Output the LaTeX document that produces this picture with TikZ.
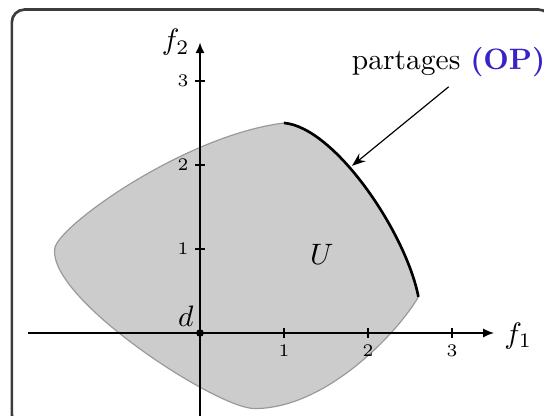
\documentclass[tikz,border=0pt]{standalone}
\usepackage{xcolor}
\usepackage{amsmath,amssymb}
\usepackage{tikz}
\usetikzlibrary{arrows.meta}
\definecolor{opblue}{RGB}{55,35,200}
\definecolor{regiongray}{RGB}{204,204,204}
\definecolor{framegray}{RGB}{60,60,60}

\begin{document}
\begin{tikzpicture}[x=1cm,y=1cm,
    axis/.style={line width=0.6pt,-{Latex[length=1.3mm,width=1.1mm]}},
    ticklabel/.style={font=\fontsize{6}{7}\selectfont,inner sep=2pt}]
  \useasboundingbox (-2.381,-0.988) rectangle (4.095,3.964);
  % frame
  \draw[framegray,line width=0.9pt,rounded corners=1.5mm]
        (-2.24,-1.12) rectangle (4.18,3.85);
  % region U
  \draw[fill=regiongray,draw=gray!80,line width=0.4pt]
        (1,2.5) .. controls (1.6,2.45) and (2.45,1.2) .. (2.6,0.43)
        .. controls (2.35,0) and (1.5,-0.9) .. (0.65,-0.9)
        .. controls (0.2,-0.9) and (-1.8,0.4) .. (-1.73,1.0)
        .. controls (-1.72,1.25) and (-0.2,2.35) .. (1,2.5) -- cycle;
  % front
  \draw[line width=0.9pt]
        (1,2.5) .. controls (1.6,2.45) and (2.45,1.2) .. (2.6,0.43);
  \coordinate (hit) at (1.81,1.99);
  % axes
  \draw[axis] (-2.05,0) -- (3.5,0) coordinate (xend);
  \draw[axis] (0,-1.3) -- (0,3.46) coordinate (yend);
  \foreach \i in {1,2,3}{%
    \draw[line width=0.6pt] (\i,-0.06) -- (\i,0.06);
    \node[ticklabel,below] (xt\i) at (\i,-0.06) {\i};
    \draw[line width=0.6pt] (-0.06,\i) -- (0.06,\i);
    \node[ticklabel,left] (yt\i) at (-0.06,\i) {\i};
  }
  \node[right,yshift=-1pt] (fone) at (xend) {$f_1$};
  \node[left] (ftwo) at (yend) {$f_2$};
  % origin
  \fill (0,0) circle (1.3pt);
  \node[above left,inner sep=2pt] (d) at (0,0) {$d$};
  \node (U) at (1.45,0.93) {$U$};
  % label
  \node (op) at (2.96,3.23) {partages \textcolor{opblue}{\textbf{(OP)}}};
  \draw[line width=0.4pt,-{Stealth[length=1.6mm,width=1.2mm]}] (op.south) -- (hit);
\end{tikzpicture}
\end{document}
